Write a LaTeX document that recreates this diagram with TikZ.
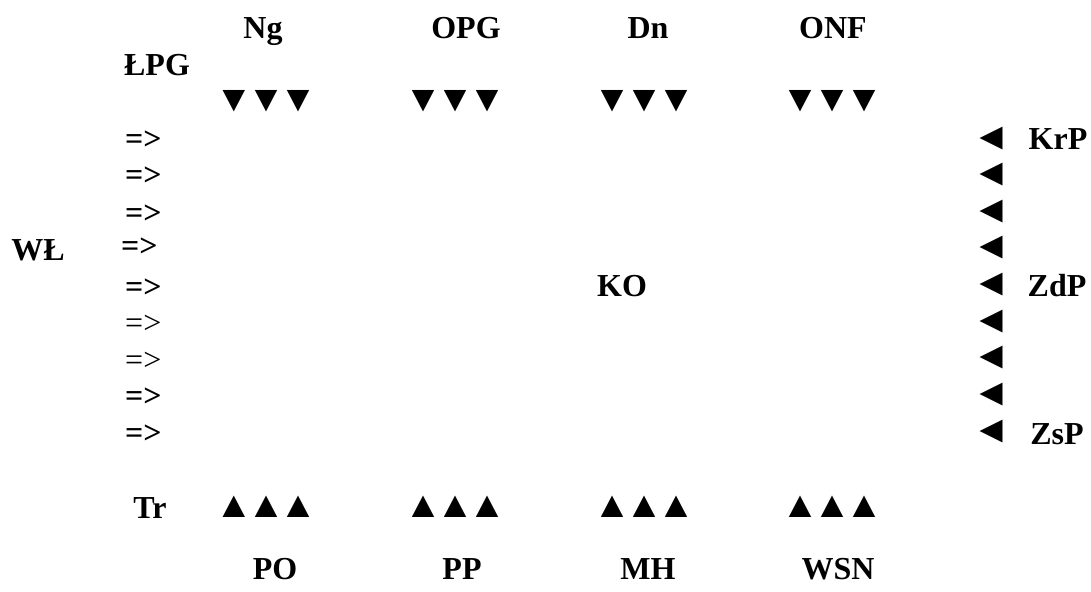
\documentclass[tikz,border=0pt]{standalone}
\usepackage{fontspec}
\usepackage{graphicx}
\setmainfont{Liberation Serif}
\newcommand\onedn{\makebox[32pt]{\scalebox{1.2}[1.15]{▼}}}
\newcommand\oneup{\makebox[32pt]{\scalebox{1.2}[1.15]{▲}}}
\newcommand\tridn{\onedn\onedn\onedn}
\newcommand\triup{\oneup\oneup\oneup}
\newcommand\trilf{\scalebox{1.2}[1.2]{◄}}
\begin{document}
\begin{tikzpicture}[x=1pt,y=-1pt,
  lbl/.style={font=\fontsize{32}{38}\selectfont\bfseries, inner sep=0pt, anchor=base},
  arr/.style={font=\fontsize{32}{38}\selectfont\bfseries, inner sep=0pt, anchor=base west},
  arrl/.style={font=\fontsize{32}{38}\selectfont, inner sep=0pt, anchor=base west},
  tri/.style={font=\fontsize{32}{38}\selectfont, inner sep=0pt, anchor=base}]
\useasboundingbox (0,0) rectangle (1091,591);
% top labels
\node[lbl] (ng) at (263,39) {Ng};
\node[lbl] (opg) at (466,39) {OPG};
\node[lbl] (dn) at (648,39) {Dn};
\node[lbl] (onf) at (833,39) {ONF};
\node[lbl] (lpg) at (157,76) {ŁPG};
% top triangles
\node[tri] (t1) at (266,112) {\tridn};
\node[tri] (t2) at (455,112) {\tridn};
\node[tri] (t3) at (644,112) {\tridn};
\node[tri] (t4) at (832,112) {\tridn};
% left arrows
\node[arr] (a1) at (125,149) {=>};
\node[arr] (a2) at (125,185) {=>};
\node[arr] (a3) at (125,223) {=>};
\node[arr] (a4) at (121,256) {=>};
\node[arr] (a5) at (125,297) {=>};
\node[arrl] (a6) at (125,333) {=>};
\node[arrl] (a7) at (125,370) {=>};
\node[arr] (a8) at (125,406) {=>};
\node[arr] (a9) at (125,443) {=>};
\node[lbl] (wl) at (38,260) {WŁ};
\node[lbl] (ko) at (622,296) {KO};
% right triangles
\node[tri] (r1) at (991,149) {\trilf};
\node[tri] (r2) at (991,185) {\trilf};
\node[tri] (r3) at (991,222) {\trilf};
\node[tri] (r4) at (991,258) {\trilf};
\node[tri] (r5) at (991,295) {\trilf};
\node[tri] (r6) at (991,332) {\trilf};
\node[tri] (r7) at (991,368) {\trilf};
\node[tri] (r8) at (991,405) {\trilf};
\node[tri] (r9) at (991,442) {\trilf};
\node[lbl] (krp) at (1058,149) {KrP};
\node[lbl] (zdp) at (1057,296) {ZdP};
\node[lbl] (zsp) at (1057,444) {ZsP};
% bottom
\node[lbl] (tr) at (150,518) {Tr};
\node[tri] (b1) at (266,517) {\triup};
\node[tri] (b2) at (455,517) {\triup};
\node[tri] (b3) at (644,517) {\triup};
\node[tri] (b4) at (832,517) {\triup};
\node[lbl] (po) at (275,579) {PO};
\node[lbl] (pp) at (462,579) {PP};
\node[lbl] (mh) at (648,579) {MH};
\node[lbl] (wsn) at (838,579) {WSN};
\end{tikzpicture}
\end{document}
